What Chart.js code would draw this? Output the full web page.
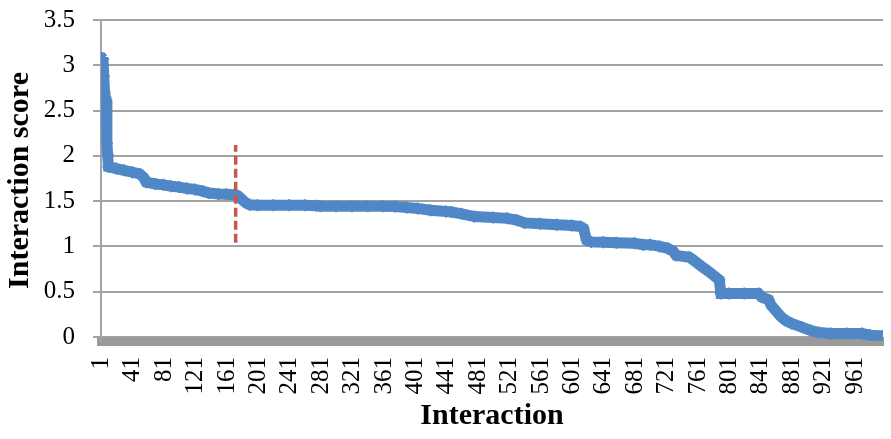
<!DOCTYPE html>
<html>
<head>
<meta charset="utf-8">
<script src="https://cdn.jsdelivr.net/npm/chart.js@4"></script>
<style>
body{margin:0;background:#fff;}
canvas{display:block;}
</style>
</head>
<body>
<canvas id="chart" width="891" height="439"></canvas>
<script>
// interaction index (x) and score (y)
const interactions = [
1,2,3,4,5,6,7,8,9,10,
20,30,40,50,55,58,70,80,90,100,
110,120,130,138,150,160,170,175,180,185,
190,200,220,240,260,275,280,300,320,340,
360,375,390,404,420,440,447,460,476,500,
518,530,540,560,581,600,611,615,619,625,
640,657,680,691,700,712,722,729,733,750,
755,767,775,788,790,800,820,838,842,851,
854,859,867,873,880,893,905,915,930,950,
970,980,996
];
const scores = [
3.08,3.08,3.07,2.88,2.70,2.65,2.62,2.14,2.01,1.88,
1.86,1.84,1.82,1.80,1.76,1.71,1.69,1.68,1.665,1.655,
1.64,1.63,1.61,1.59,1.58,1.575,1.57,1.56,1.52,1.48,
1.46,1.455,1.455,1.455,1.455,1.45,1.445,1.445,1.445,1.445,
1.445,1.44,1.43,1.42,1.40,1.385,1.38,1.36,1.33,1.32,
1.31,1.29,1.26,1.25,1.24,1.23,1.22,1.20,1.07,1.05,
1.045,1.04,1.035,1.02,1.02,1.00,0.98,0.95,0.90,0.88,
0.85,0.77,0.72,0.63,0.48,0.48,0.48,0.48,0.44,0.41,
0.35,0.30,0.22,0.18,0.15,0.11,0.07,0.05,0.04,0.04,
0.04,0.02,0.01
];

// red dashed cut-off marker
const cutoffX = [172,172];
const cutoffY = [1.04,2.12];

const xTicks = [1,41,81,121,161,201,241,281,321,361,401,441,481,521,561,601,641,681,721,761,801,841,881,921,961];
const yTicks = [0,0.5,1,1.5,2,2.5,3,3.5];

const tickFont = {family:"'Liberation Serif', 'Times New Roman', serif", size:25};
const titleFont = {family:"'Liberation Serif', 'Times New Roman', serif", size:30, weight:"bold"};

new Chart(document.getElementById("chart"),{
type:"line",
data:{
datasets:[
{
label:"cutoff",
data:cutoffX.map((x,i)=>({x,y:cutoffY[i]})),
borderColor:"#c9564f",
borderWidth:3.5,
borderDash:[9,4],
pointRadius:0,
order:0
},
{
label:"score",
data:interactions.map((x,i)=>({x,y:scores[i]})),
borderColor:"#4f87c7",
borderWidth:11,
pointStyle:"cross",
pointRadius:6,
pointBorderWidth:2,
pointBorderColor:"#4f87c7",
tension:0,
order:1
}
]
},
options:{
responsive:false,
animation:false,
devicePixelRatio:1,
layout:{padding:{left:2,right:0,top:0,bottom:5}},
plugins:{legend:{display:false},tooltip:{enabled:false}},
scales:{
x:{
type:"linear",
min:0.5,
max:996.5,
afterBuildTicks:s=>{s.ticks=xTicks.map(v=>({value:v}));},
afterFit:s=>{s.height=439-341-5;s.paddingLeft=0;s.paddingRight=1;},
grid:{display:false,drawTicks:false},
border:{display:true,color:"#9a9a9a",width:9},
ticks:{
font:tickFont,
color:"#000",
minRotation:90,
maxRotation:90,
autoSkip:false,
padding:16,
callback:v=>String(v)
},
title:{display:true,text:"Interaction",font:titleFont,color:"#000",padding:0}
},
y:{
min:-0.044,
max:3.5,
afterBuildTicks:s=>{s.ticks=yTicks.map(v=>({value:v}));},
afterFit:s=>{s.width=101-2;s.paddingTop=20;s.paddingBottom=0;},
grid:{color:"#a3a3a3",lineWidth:2,tickLength:8,drawTicks:true},
border:{display:true,color:"#a3a3a3",width:2},
ticks:{font:tickFont,color:"#000",padding:18,callback:v=>String(v)},
title:{display:true,text:"Interaction score",font:titleFont,color:"#000",padding:0}
}
}
}
});
</script>
</body>
</html>
